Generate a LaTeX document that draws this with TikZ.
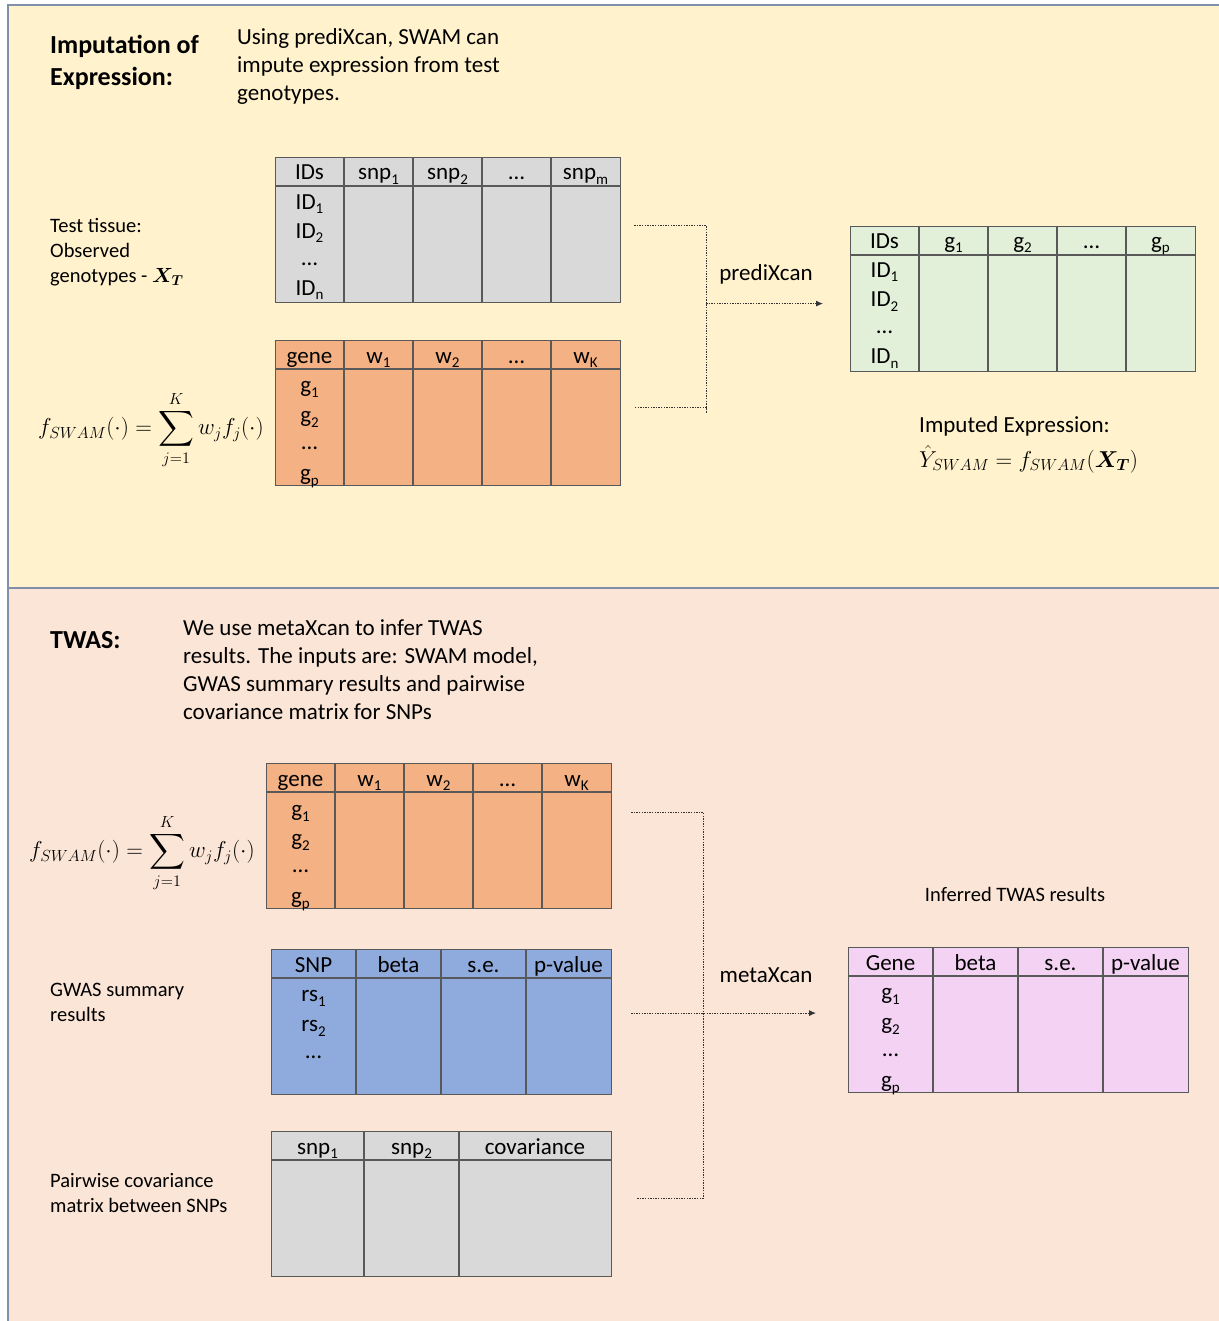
\RequirePackage{fix-cm}
\documentclass[tikz,border=0pt]{standalone}
\usepackage{amsmath}
\usepackage{fontspec}
\setmainfont{Carlito}
\usetikzlibrary{arrows.meta}

\definecolor{topbg}{HTML}{FFF2CC}
\definecolor{botbg}{HTML}{FBE5D6}
\definecolor{framec}{HTML}{8090A8}
\definecolor{genogrey}{HTML}{D9D9D9}
\definecolor{wtorange}{HTML}{F4B183}
\definecolor{exgreen}{HTML}{E2F0D9}
\definecolor{gwblue}{HTML}{8FAADC}
\definecolor{twpink}{HTML}{F3D2F3}

% low index as in the table headers
\newcommand{\lsub}[1]{\raisebox{-4.5pt}{\fontsize{15}{15}\selectfont #1}}

\begin{document}
\begin{tikzpicture}[x=1pt, y=-1pt, every node/.style={inner sep=0pt},
  head/.style={font=\fontsize{26}{32}\selectfont\bfseries, align=left, anchor=north west},
  para/.style={font=\fontsize{23}{28}\selectfont, align=left, anchor=north west},
  side/.style={font=\fontsize{20.5}{25}\selectfont, align=left, anchor=north west},
  cell/.style={font=\fontsize{23}{28}\selectfont, text height=16pt, text depth=5pt},
  eq/.style={font=\fontsize{23}{28}\selectfont, anchor=west},
  tab/.style={draw=black!65, line width=1.2pt, anchor=north west, minimum width=345pt, minimum height=145pt},
  tabline/.style={draw=black!65, line width=1.2pt},
  flow/.style={black!80, line width=0.9pt, dash pattern=on 1.4pt off 1.2pt},
  >={Latex[length=7pt,width=6pt]}]
\useasboundingbox (0,0) rectangle (1218,1321);

% the two panels
\fill[topbg] (8,5) rectangle (1222,588);
\fill[botbg] (8,588) rectangle (1222,1325);
\draw[framec, line width=2pt] (1222,5) -- (8,5) -- (8,1325);
\draw[framec, line width=2pt] (8,588) -- (1222,588);

% ---- imputation of expression
\node[head] (imphead) at (50,35) {Imputation of\\Expression:};
\node[para] (impnote) at (237,28) {Using prediXcan, SWAM can\\impute expression from test\\genotypes.};
\node[side] (testlbl) at (50,218) {Test tissue:\\Observed\\genotypes - $\boldsymbol{X_T}$};
\node[eq] (swamsum) at (38,430) {$f_{SWAM}(\cdot) = \displaystyle\sum_{j=1}^{K} w_j f_j(\cdot)$};

\node[tab, fill=genogrey] (geno) at (275,157) {};
\node[tab, fill=wtorange] (wts) at (275,340) {};
\node[tab, fill=exgreen] (expr) at (850,226) {};
\foreach \tb in {geno, wts, expr} {
  \draw[tabline] ([yshift=-29]\tb.north west) -- ([yshift=-29]\tb.north east);
  \foreach \c in {69,138,207,276}
    \draw[tabline] ([xshift=\c]\tb.north west) -- ([xshift=\c]\tb.south west);
}
\foreach \lbl [count=\i] in {IDs, snp\lsub{1}, snp\lsub{2}, \dots, snp\lsub{m}}
  \node[cell] at ([xshift={(\i-0.5)*69}, yshift=-17.5]geno.north west) {\lbl};
\foreach \lbl/\y in {ID\lsub{1}/47, ID\lsub{2}/76, \dots/103, ID\lsub{n}/133}
  \node[cell] at ([xshift=34.5, yshift=-\y]geno.north west) {\lbl};
\foreach \lbl [count=\i] in {gene, w\lsub{1}, w\lsub{2}, \dots, w\lsub{K}}
  \node[cell] at ([xshift={(\i-0.5)*69}, yshift=-17.5]wts.north west) {\lbl};
\foreach \lbl/\y in {g\lsub{1}/47, g\lsub{2}/77, \dots/104, g\lsub{p}/135}
  \node[cell] at ([xshift=34.5, yshift=-\y]wts.north west) {\lbl};
\foreach \lbl [count=\i] in {IDs, g\lsub{1}, g\lsub{2}, \dots, g\lsub{p}}
  \node[cell] at ([xshift={(\i-0.5)*69}, yshift=-17]expr.north west) {\lbl};
\foreach \lbl/\y in {ID\lsub{1}/46, ID\lsub{2}/75, \dots/102, ID\lsub{n}/132}
  \node[cell] at ([xshift=34.5, yshift=-\y]expr.north west) {\lbl};

% prediXcan step
\coordinate (p1) at ([xshift=13,yshift=4.5]geno.east);
\coordinate (p2) at ([xshift=13,yshift=6]wts.east);
\coordinate (pjoin) at ([xshift=85]wts.east);
\coordinate (ptip) at ([xshift=-27,yshift=-4.5]expr.west);
\draw[flow] (p1) -| (pjoin) |- (p2);
\draw[flow,->] (pjoin |- ptip) -- (ptip);
\node[cell] (predlbl) at (766,275) {prediXcan};

\node[para, anchor=west] (imptxt) at (919,426) {Imputed Expression:};
\node[eq] (impeq) at (919,459) {$\hat{Y}_{SWAM} = f_{SWAM}(\boldsymbol{X_T})$};

% ---- TWAS
\node[head, anchor=west] (twashead) at (50,640) {TWAS:};
\node[para] (twasnote) at (183,619) {We use metaXcan to infer TWAS\\results. The inputs are: SWAM model,\\GWAS summary results and pairwise\\covariance matrix for SNPs};
\node[eq] (swamsum2) at (29,853) {$f_{SWAM}(\cdot) = \displaystyle\sum_{j=1}^{K} w_j f_j(\cdot)$};
\node[side] (gwaslbl) at (50,983) {GWAS summary\\results};
\node[side] (covlbl) at (50,1173) {Pairwise covariance\\matrix between SNPs};

\node[tab, fill=wtorange] (wts2) at (266,763) {};
\node[tab, fill=gwblue, minimum width=340pt] (gwas) at (271,949) {};
\node[tab, fill=genogrey, minimum width=340pt] (cov) at (271,1131) {};
\node[tab, fill=twpink, minimum width=340pt] (twas) at (848,947) {};
\draw[tabline] ([yshift=-29]wts2.north west) -- ([yshift=-29]wts2.north east);
\foreach \c in {69,138,207,276}
  \draw[tabline] ([xshift=\c]wts2.north west) -- ([xshift=\c]wts2.south west);
\foreach \tb in {gwas, cov, twas}
  \draw[tabline] ([yshift=-29]\tb.north west) -- ([yshift=-29]\tb.north east);
\foreach \tb in {gwas, twas}
  \foreach \c in {85,170,255}
    \draw[tabline] ([xshift=\c]\tb.north west) -- ([xshift=\c]\tb.south west);
\foreach \c in {93,188}
  \draw[tabline] ([xshift=\c]cov.north west) -- ([xshift=\c]cov.south west);

\foreach \lbl [count=\i] in {gene, w\lsub{1}, w\lsub{2}, \dots, w\lsub{K}}
  \node[cell] at ([xshift={(\i-0.5)*69}, yshift=-17.5]wts2.north west) {\lbl};
\foreach \lbl/\y in {g\lsub{1}/48, g\lsub{2}/77, \dots/104, g\lsub{p}/135}
  \node[cell] at ([xshift=34.5, yshift=-\y]wts2.north west) {\lbl};
\foreach \lbl [count=\i] in {SNP, beta, s.e., p-value}
  \node[cell] at ([xshift={(\i-0.5)*85}, yshift=-17.5]gwas.north west) {\lbl};
\foreach \lbl/\y in {rs\lsub{1}/47, rs\lsub{2}/77, \dots/104}
  \node[cell] at ([xshift=42.5, yshift=-\y]gwas.north west) {\lbl};
\foreach \lbl/\c in {snp\lsub{1}/46.5, snp\lsub{2}/140.5, covariance/264}
  \node[cell] at ([xshift=\c, yshift=-17.5]cov.north west) {\lbl};
\foreach \lbl [count=\i] in {Gene, beta, s.e., p-value}
  \node[cell] at ([xshift={(\i-0.5)*85}, yshift=-17.5]twas.north west) {\lbl};
\foreach \lbl/\y in {g\lsub{1}/47, g\lsub{2}/77, \dots/104, g\lsub{p}/135}
  \node[cell] at ([xshift=42.5, yshift=-\y]twas.north west) {\lbl};

% metaXcan step
\coordinate (m1) at ([xshift=19,yshift=24]wts2.east);
\coordinate (m2) at ([xshift=19,yshift=9]gwas.east);
\coordinate (m3) at ([xshift=25,yshift=6]cov.east);
\coordinate (mjoin) at ([xshift=91]gwas.east);
\coordinate (mtip) at ([xshift=-32]twas.west);
\draw[flow] (m1) -| (mjoin) |- (m3);
\draw[flow,->] (m2) -- (m2 -| mtip);
\node[cell] (metalbl) at (766,977) {metaXcan};
\node[side, anchor=center] (twaslbl) at (1015,894) {Inferred TWAS results};
\end{tikzpicture}
\end{document}
